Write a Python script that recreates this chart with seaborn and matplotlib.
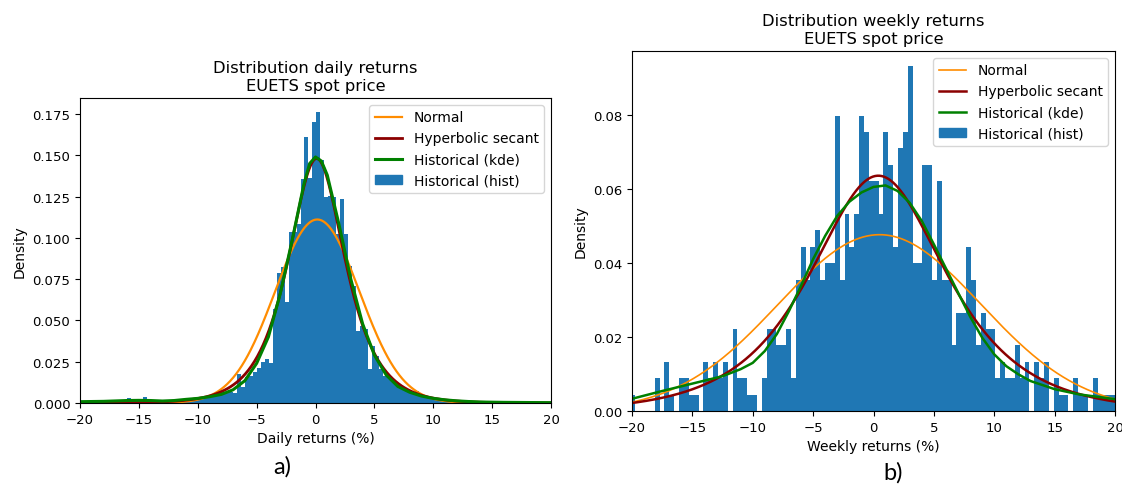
import numpy as np
import pandas as pd
import matplotlib
matplotlib.use("Agg")
import matplotlib.pyplot as plt
from matplotlib.lines import Line2D
from matplotlib.patches import Patch
import seaborn as sns

# ---------------- daily returns (%) ----------------
daily_bin_start = -20.03
daily_bin_width = 0.335
daily_density = [
    0.0009, 0.0, 0.0009, 0.0, 0.0009, 0.0, 0.0, 0.0009, 0.0, 0.0009,
    0.0009, 0.0009, 0.0028, 0.0, 0.0009, 0.0009, 0.0038, 0.0009, 0.0, 0.0009,
    0.0009, 0.0009, 0.0019, 0.0019, 0.0009, 0.0019, 0.0009, 0.0019, 0.0019, 0.0019,
    0.0028, 0.0028, 0.0028, 0.0038, 0.0047, 0.0047, 0.0066, 0.0075, 0.0066, 0.0060,
    0.0176, 0.0094, 0.0157, 0.0165, 0.0190, 0.0209, 0.0247, 0.0267, 0.0245, 0.0569,
    0.0790, 0.0822, 0.0610, 0.1034, 0.1034, 0.1084, 0.1357, 0.1610, 0.1360, 0.1704,
    0.1760, 0.1470, 0.1246, 0.1256, 0.1246, 0.1024, 0.1236, 0.1024, 0.0832, 0.0710,
    0.0438, 0.0468, 0.0448, 0.0206, 0.0347, 0.0287, 0.0206, 0.0165, 0.0150, 0.0130,
    0.0110, 0.0095, 0.0085, 0.0075, 0.0066, 0.0075, 0.0057, 0.0047, 0.0038, 0.0028,
    0.0028, 0.0019, 0.0019, 0.0009, 0.0019, 0.0009, 0.0009, 0.0, 0.0009, 0.0009,
    0.0009, 0.0, 0.0009, 0.0, 0.0009, 0.0, 0.0, 0.0009, 0.0, 0.0,
    0.0009, 0.0, 0.0, 0.0009, 0.0, 0.0, 0.0, 0.0, 0.0009, 0.0,
]
daily_normal_mu, daily_normal_sigma = 0.15, 3.59
daily_hypsec_loc, daily_hypsec_scale = 0.10, 2.15
daily_kde_x = [-20, -18, -16, -15, -14, -13, -12, -11, -10, -9, -8, -7, -6, -5,
               -4, -3, -2, -1, -0.5, 0, 0.5, 1, 2, 3, 4, 5, 6, 7, 8, 9, 10,
               11, 12, 13, 14, 15, 16, 18, 20]
daily_kde_y = [0.0008, 0.0010, 0.0015, 0.0016, 0.0015, 0.0012, 0.0015, 0.0022,
               0.0028, 0.0038, 0.0052, 0.0080, 0.0135, 0.0240, 0.0400, 0.0660,
               0.0980, 0.1320, 0.1450, 0.1490, 0.1465, 0.1380, 0.1080, 0.0750,
               0.0480, 0.0290, 0.0170, 0.0100, 0.0065, 0.0042, 0.0028, 0.0019,
               0.0013, 0.0009, 0.0006, 0.0005, 0.0004, 0.0003, 0.0002]

# ---------------- weekly returns (%) ----------------
weekly_bin_start = -20.13
weekly_bin_width = 0.403
weekly_counts = [
    1, 0, 0, 0, 0, 2, 0, 3, 1, 0,
    2, 2, 1, 1, 0, 3, 2, 3, 2, 3,
    0, 5, 2, 2, 1, 1, 0, 2, 5, 5,
    4, 4, 5, 2, 8, 10, 8, 10, 11, 8,
    9, 9, 18, 8, 12, 10, 12, 18, 17, 14,
    14, 12, 17, 15, 10, 16, 17, 21, 9, 9,
    15, 15, 8, 14, 8, 8, 4, 6, 6, 10,
    8, 4, 6, 5, 5, 2, 3, 2, 2, 4,
    2, 3, 0, 3, 2, 3, 0, 2, 1, 1,
    0, 2, 1, 1, 0, 2, 1, 1, 1, 1,
]
weekly_n_obs = 560
weekly_normal_mu, weekly_normal_sigma = 0.5, 8.38
weekly_hypsec_loc, weekly_hypsec_scale = 0.4, 5.01
weekly_kde_x = [-20, -17.5, -15, -12.5, -11, -10, -9, -8, -7, -6, -5, -4, -3, -2,
                -1, 0, 1, 2, 3, 4, 5, 6, 7, 8, 9, 10, 11, 12, 13, 15, 17, 20]
weekly_kde_y = [0.0033, 0.0054, 0.0074, 0.0094, 0.0113, 0.0130, 0.0162, 0.0208,
                0.0270, 0.0338, 0.0410, 0.0473, 0.0527, 0.0565, 0.0590, 0.0605,
                0.0609, 0.0594, 0.0562, 0.0513, 0.0450, 0.0385, 0.0320, 0.0255,
                0.0198, 0.0153, 0.0121, 0.0099, 0.0081, 0.0059, 0.0045, 0.0032]

labels = ["Normal", "Hyperbolic secant", "Historical (kde)", "Historical (hist)"]
c_norm, c_hyp, c_kde, c_hist = "darkorange", "darkred", "green", "#1f77b4"


def normal_pdf(x, mu, sigma):
    return np.exp(-0.5 * ((x - mu) / sigma) ** 2) / (sigma * np.sqrt(2 * np.pi))


def hypsecant_pdf(x, loc, scale):
    return 1.0 / (np.pi * scale * np.cosh((x - loc) / scale))


def panel(ax, start, width, heights, mu, sigma, loc, scale, kx, ky,
          title, xlabel, ylim, yticks, widths):
    lw_norm, lw_hyp, lw_kde = widths
    edges = start + width * np.arange(len(heights) + 1)
    centers = edges[:-1] + width / 2
    hist_df = pd.DataFrame({"x": centers, "w": np.asarray(heights, dtype=float)})
    sns.histplot(data=hist_df, x="x", weights="w", bins=edges.tolist(),
                 stat="count", color=c_hist, alpha=1.0, linewidth=0, ax=ax)
    grid = np.linspace(-25, 25, 801)
    sns.lineplot(x=grid, y=normal_pdf(grid, mu, sigma), color=c_norm,
                 linewidth=lw_norm, ax=ax)
    sns.lineplot(x=grid, y=hypsecant_pdf(grid, loc, scale), color=c_hyp,
                 linewidth=lw_hyp, ax=ax)
    sns.lineplot(x=kx, y=ky, color=c_kde, linewidth=lw_kde, ax=ax)
    ax.set_xlim(-20, 20)
    ax.set_ylim(0, ylim)
    ax.set_xticks(np.arange(-20, 21, 5))
    ax.set_yticks(yticks)
    ax.tick_params(labelsize=9.5)
    ax.set_title(title, fontsize=11.8)
    ax.set_xlabel(xlabel, fontsize=10)
    ax.set_ylabel("Density", fontsize=10)
    handles = [Line2D([], [], color=c_norm, lw=lw_norm),
               Line2D([], [], color=c_hyp, lw=lw_hyp),
               Line2D([], [], color=c_kde, lw=lw_kde),
               Patch(color=c_hist)]
    ax.legend(handles, labels, loc="upper right", fontsize=10)


fig = plt.figure(figsize=(11.22, 4.85), dpi=100)
ax1 = fig.add_axes([80 / 1122, 81 / 485, 471 / 1122, 305 / 485])
ax2 = fig.add_axes([632 / 1122, 73 / 485, 483 / 1122, 360 / 485])

panel(ax1, daily_bin_start, daily_bin_width, daily_density,
      daily_normal_mu, daily_normal_sigma, daily_hypsec_loc, daily_hypsec_scale,
      daily_kde_x, daily_kde_y,
      "Distribution daily returns\nEUETS spot price", "Daily returns (%)",
      0.1847, np.arange(0, 0.176, 0.025), (1.6, 2.0, 2.2))

weekly_density = np.array(weekly_counts) / (weekly_n_obs * weekly_bin_width)
panel(ax2, weekly_bin_start, weekly_bin_width, weekly_density,
      weekly_normal_mu, weekly_normal_sigma, weekly_hypsec_loc, weekly_hypsec_scale,
      weekly_kde_x, weekly_kde_y,
      "Distribution weekly returns\nEUETS spot price", "Weekly returns (%)",
      0.0972, np.arange(0, 0.081, 0.02), (1.2, 1.8, 1.8))

fig.text(282 / 1122, 1 - 467 / 485, "a)", fontsize=17, family="Lato",
         ha="center", va="center")
fig.text(893 / 1122, 1 - 473 / 485, "b)", fontsize=17, family="Lato",
         ha="center", va="center")

fig.savefig("out.png", dpi=100)
